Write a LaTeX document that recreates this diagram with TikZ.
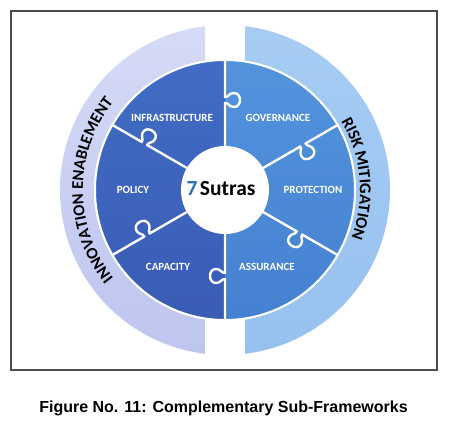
\documentclass[tikz,border=0pt]{standalone}
\usepackage{fontspec}
\setmainfont{Carlito}
\newfontfamily\capfont{Liberation Sans}
\usetikzlibrary{decorations.text}
\definecolor{bandleftA}{HTML}{D5DAF6}
\definecolor{bandleftB}{HTML}{BEC5EF}
\definecolor{bandrightA}{HTML}{A6CCF3}
\definecolor{bandrightB}{HTML}{96C1EF}
\definecolor{segleftA}{HTML}{416CC5}
\definecolor{segleftB}{HTML}{3A5CB5}
\definecolor{segrightA}{HTML}{5393DC}
\definecolor{segrightB}{HTML}{4581D2}
\definecolor{sutrablue}{HTML}{2E6DB4}
\definecolor{framegray}{HTML}{4D4D4D}
\newcommand\bandfont{\bfseries\fontsize{16.5}{19}\selectfont}
\tikzset{
  seglabel/.style={text=white, font=\bfseries\fontsize{11}{13}\selectfont},
  seam/.style={white, line width=2.4pt, line join=round},
  bandtext/.style={decorate, decoration={text along path, text align=center,
    text={|\bandfont|#1}}},
}
\begin{document}
\begin{tikzpicture}[x=1pt, y=1pt]
  \useasboundingbox[fill=white] (-225,-237) rectangle (225,190);
  \draw[framegray, line width=1.2pt] (-214,179) rectangle (212,-180);
  % outer bands
  \shade[top color=bandleftA, bottom color=bandleftB] (97:165) arc[start angle=97, end angle=263, radius=165] -- (261.2:131) arc[start angle=261.2, end angle=98.8, radius=131] -- cycle;
  \shade[top color=bandrightA, bottom color=bandrightB] (83:165) arc[start angle=83, end angle=-83, radius=165] -- (-81.2:131) arc[start angle=-81.2, end angle=81.2, radius=131] -- cycle;
  \path[bandtext=INNOVATION ENABLEMENT] (230:142) arc[start angle=230, end angle=130, radius=142];
  \path[bandtext=RISK MITIGATION] (55:135) arc[start angle=55, end angle=-45, radius=135];
  % puzzle wheel
  \shade[top color=segleftA, bottom color=segleftB] (0,130) arc[start angle=90, end angle=270, radius=130] -- cycle;
  \shade[top color=segrightA, bottom color=segrightB] (0,-130) arc[start angle=-90, end angle=90, radius=130] -- cycle;
  \draw[white, line width=2pt] (0,0) circle[radius=130];
  \foreach \a/\k in {90/90, 30/90, 330/86, 270/86, 210/90, 150/93}
    \draw[seam, rotate=\a] (44,0) -- (\k-3,0) .. controls (\k-3,-4) and (\k-7,-4) .. (\k-7,-9) .. controls (\k-7,-17) and (\k+7,-17) .. (\k+7,-9) .. controls (\k+7,-4) and (\k+3,-4) .. (\k+3,0) -- (130,0);
  \fill[white] (0,0) circle[radius=44];
  \node[font=\bfseries\fontsize{21.5}{24}\selectfont] (sutras) at (-4,1) {\textcolor{sutrablue}{7}\hspace{0.12em}Sutras};
  \foreach \p/\t/\n in {(-53,72)/INFRASTRUCTURE/infra, (53,72)/GOVERNANCE/gov, (-92,0)/POLICY/policy, (88,0)/PROTECTION/prot, (-57,-77)/CAPACITY/cap, (42,-77)/ASSURANCE/assur}
    \node[seglabel] (\n) at \p {\t};
  \node[font=\capfont\bfseries\fontsize{16}{18}\selectfont, anchor=base] (caption) at (-1.5,-223) {Figure No. 11: Complementary Sub-Frameworks};
\end{tikzpicture}
\end{document}
